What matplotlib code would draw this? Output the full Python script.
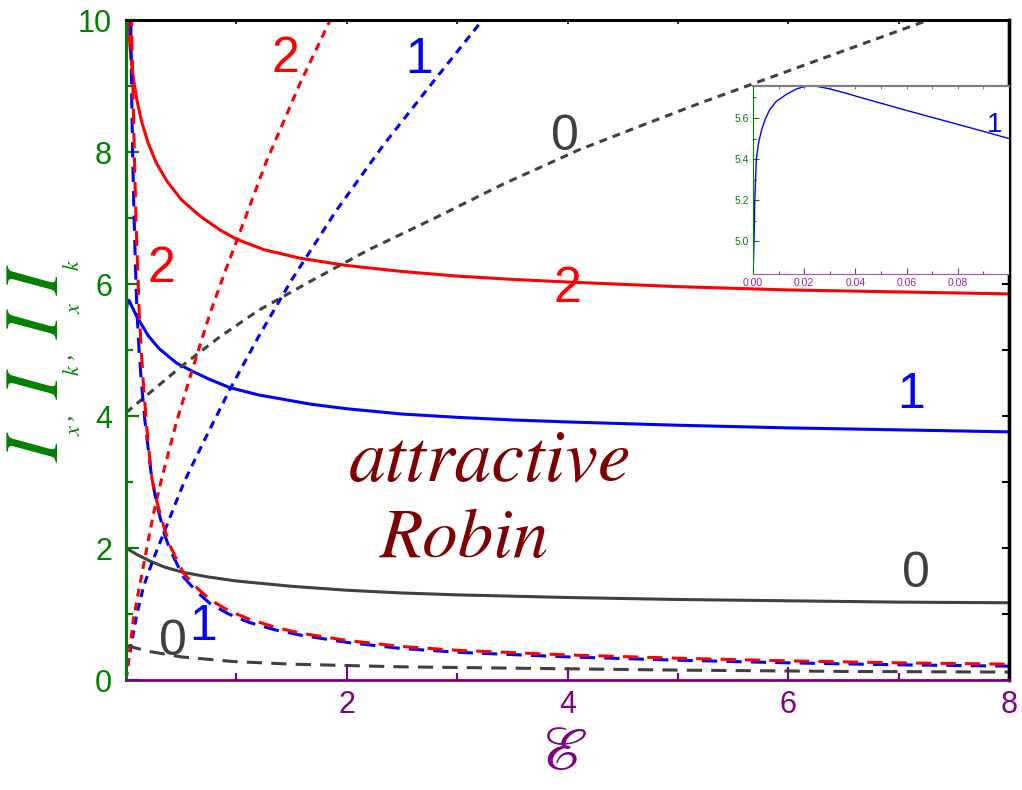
import matplotlib
matplotlib.use("Agg")
import matplotlib.pyplot as plt
from matplotlib.ticker import FormatStrFormatter

GREEN = "#008000"
PURPLE = "#800080"
GRAY = "#404040"
MAROON = "#800000"

# solid curves (level 0, 1, 2)
eps_sol0 = [0.0, 0.1, 0.22, 0.35, 0.52, 0.75, 1.0, 1.5, 2.0, 2.48, 3.0, 4.0, 5.0, 6.0, 7.0, 8.0]
sol0 = [2.0, 1.9, 1.8, 1.71, 1.63, 1.56, 1.5, 1.42, 1.36, 1.32, 1.29, 1.25, 1.22, 1.2, 1.18, 1.17]

eps_sol1 = [0.0, 0.0004, 0.00065, 0.0013, 0.0022, 0.0033, 0.0048, 0.0065, 0.009, 0.013, 0.017,
            0.021, 0.025, 0.030, 0.036, 0.042, 0.05, 0.060, 0.07, 0.078, 0.09, 0.1,
            0.2, 0.3, 0.46, 0.6, 0.75, 0.94, 1.2, 1.67, 2.0, 2.5, 3.0, 3.5, 4.0, 5.0, 6.0, 7.0, 8.0]
sol1 = [4.84, 5.0, 5.18, 5.40, 5.48, 5.54, 5.595, 5.64, 5.68, 5.715, 5.742,
        5.756, 5.754, 5.742, 5.722, 5.70, 5.672, 5.637, 5.603, 5.576, 5.535, 5.50,
        5.22, 5.02, 4.80, 4.68, 4.56, 4.43, 4.32, 4.18, 4.11, 4.03, 3.98, 3.94, 3.91, 3.86, 3.82, 3.79, 3.76]

eps_sol2 = [0.02, 0.035, 0.05, 0.07, 0.1, 0.14, 0.2, 0.27, 0.37, 0.5, 0.67, 0.85, 1.0, 1.25,
            1.58, 2.0, 2.5, 3.0, 3.5, 4.0, 5.0, 6.0, 7.0, 8.0]
sol2 = [10.0, 9.62, 9.35, 9.08, 8.78, 8.47, 8.14, 7.85, 7.56, 7.28, 7.03, 6.82, 6.68, 6.52,
        6.39, 6.28, 6.19, 6.12, 6.07, 6.03, 5.96, 5.91, 5.88, 5.85]

# short-dashed (rising) curves
eps_dot0 = [0.0, 0.25, 0.5, 0.85, 1.2, 1.67, 2.2, 2.8, 3.4, 4.1, 4.7, 5.2, 6.2, 7.27]
dot0 = [4.05, 4.4, 4.75, 5.2, 5.6, 6.04, 6.52, 7.0, 7.5, 8.03, 8.42, 8.74, 9.35, 10.0]

eps_dot1 = [0.0, 0.02, 0.05, 0.097, 0.157, 0.247, 0.369, 0.459, 0.535, 0.7, 0.94, 1.2, 1.5,
            1.9, 2.33, 2.8, 3.23]
dot1 = [0.0, 0.25, 0.55, 0.98, 1.41, 1.83, 2.34, 2.72, 3.03, 3.6, 4.4, 5.2, 6.06,
        7.1, 8.1, 9.1, 10.0]

eps_dot2 = [0.0, 0.036, 0.066, 0.112, 0.157, 0.217, 0.257, 0.308, 0.459, 0.61, 0.76, 0.9, 1.0,
            1.27, 1.58, 1.85]
dot2 = [0.0, 0.5, 0.91, 1.33, 1.72, 2.25, 2.58, 2.95, 3.92, 4.75, 5.55, 6.2, 6.64,
        7.85, 9.05, 10.0]

# long-dashed (falling) curves
eps_dash0 = [0.0, 0.05, 0.22, 0.5, 0.97, 1.5, 2.48, 3.48, 5.0, 6.5, 8.0]
dash0 = [0.52, 0.5, 0.43, 0.35, 0.28, 0.24, 0.2, 0.18, 0.15, 0.13, 0.12]

eps_dash1 = [0.043, 0.05, 0.06, 0.072, 0.085, 0.1, 0.12, 0.14, 0.17, 0.2, 0.23, 0.28, 0.35,
             0.4, 0.52, 0.64, 0.76, 0.93, 1.12, 1.35, 1.58, 2.0, 2.48, 3.0, 4.0, 5.0, 6.0, 7.0, 8.0]
dash1 = [10.0, 9.0, 8.0, 7.1, 6.3, 5.56, 4.95, 4.5, 3.95, 3.52, 3.1, 2.65, 2.2,
         1.97, 1.56, 1.34, 1.16, 1.0, 0.87, 0.76, 0.68, 0.57, 0.48, 0.42, 0.35, 0.3, 0.26, 0.23, 0.21]

eps_dash2 = [0.05, 0.062, 0.075, 0.087, 0.1, 0.12, 0.14, 0.155, 0.18, 0.2, 0.235, 0.28, 0.35,
             0.4, 0.52, 0.64, 0.76, 0.93, 1.12, 1.35, 1.58, 2.0, 2.48, 3.0, 4.0, 5.0, 6.0, 7.0, 8.0]
dash2 = [10.0, 9.0, 8.0, 7.2, 6.5, 5.56, 4.95, 4.55, 4.0, 3.6, 3.05, 2.7, 2.28,
         2.03, 1.62, 1.4, 1.22, 1.05, 0.92, 0.8, 0.71, 0.6, 0.51, 0.45, 0.38, 0.33, 0.29, 0.26, 0.24]

x_major = [2, 4, 6, 8]
x_minor = [1, 3, 5, 7]
y_major = [0, 2, 4, 6, 8, 10]
y_minor = [1, 3, 5, 7, 9]

# curve labels: text, x, y (baseline), color
labels = [
    ("2", 1.44, 9.21, "red"),
    ("1", 2.66, 9.20, "blue"),
    ("0", 3.98, 8.03, GRAY),
    ("2", 0.317, 6.03, "red"),
    ("2", 4.0, 5.73, "red"),
    ("1", 7.11, 4.12, "blue"),
    ("0", 7.16, 1.41, GRAY),
    ("0", 0.426, 0.38, GRAY),
    ("1", 0.70, 0.61, "blue"),
]

W, H = 1022, 790
fig = plt.figure(figsize=(W / 100, H / 100), dpi=100)
plt.rcParams["font.family"] = ["Liberation Sans", "DejaVu Sans"]


def px_box(l, t, r, b):
    return [l / W, 1 - b / H, (r - l) / W, (b - t) / H]


ax = fig.add_axes(px_box(126, 20, 1009, 680))
ax.set_xlim(0, 8)
ax.set_ylim(0, 10)

dot = (0, (2.6, 2.0))
dash = (0, (5.0, 3.0))
lw = 2.2
ax.plot(eps_sol0, sol0, color=GRAY, lw=lw)
ax.plot(eps_sol1, sol1, color="blue", lw=lw)
ax.plot(eps_sol2, sol2, color="red", lw=lw)
ax.plot(eps_dot0, dot0, color=GRAY, lw=lw, ls=dot)
ax.plot(eps_dot1, dot1, color="blue", lw=lw, ls=dot)
ax.plot(eps_dot2, dot2, color="red", lw=lw, ls=dot)
ax.plot(eps_dash0, dash0, color=GRAY, lw=lw, ls=dash)
ax.plot(eps_dash1, dash1, color="blue", lw=lw, ls=dash)
ax.plot(eps_dash2, dash2, color="red", lw=lw, ls=(3, (5.0, 3.0)))

for s, x, y, c in labels:
    ax.text(x, y, s, color=c, fontsize=36, ha="center", va="baseline")

ax.text(3.3, 3.3, "attractive", color=MAROON, fontsize=53, family="STIXGeneral",
        style="italic", ha="center", va="center")
ax.text(3.07, 2.12, "Robin", color=MAROON, fontsize=51, family="STIXGeneral",
        style="italic", ha="center", va="center")

ax.set_xticks(x_major)
ax.set_xticks(x_minor, minor=True)
ax.set_yticks(y_major)
ax.set_yticks(y_minor, minor=True)
ax.tick_params(axis="x", which="both", direction="in", colors=PURPLE, labelsize=22, pad=7)
ax.tick_params(axis="y", which="both", direction="in", colors=GREEN, labelsize=22, pad=10)
ax.tick_params(which="major", length=9.5, width=1.6)
ax.tick_params(which="minor", length=5, width=1.6)
ax.spines["left"].set_color(GREEN)
ax.spines["left"].set_linewidth(2.2)
ax.spines["bottom"].set_color(PURPLE)
ax.spines["bottom"].set_linewidth(2.0)
ax.spines["top"].set_linewidth(2.0)
ax.spines["right"].set_linewidth(2.4)

top = ax.secondary_xaxis("top")
top.set_xticks(list(range(0, 9)))
top.tick_params(direction="in", length=3, width=1.2, labeltop=False, colors="black")
top.spines["top"].set_linewidth(2.0)
right = ax.secondary_yaxis("right")
right.set_yticks(list(range(0, 11)))
right.tick_params(direction="in", length=5, width=1.4, labelright=False, colors="black")
right.spines["right"].set_linewidth(2.4)

# y label: I_x, I_k, I_x I_k  built from pieces (small subscripts)
ylab = [
    ("I", 40, 449, 55), ("x", 75, 431, 16), (",", 66, 417, 20),
    ("I", 40, 386, 55), ("k", 73, 370, 16), (",", 66, 357, 20),
    ("I", 40, 326, 55), ("x", 75, 309, 16),
    ("I", 40, 282, 55), ("k", 73, 265, 16),
]
for s, px, py, fs in ylab:
    fig.text(px / W, 1 - py / H, s, rotation=90, ha="center", va="center", color=GREEN,
             fontsize=fs, family="STIXGeneral", style="italic")

fig.text(563 / W, 1 - 753 / H, r"$\mathscr{E}$", math_fontfamily="stix", fontsize=44,
         color=PURPLE, ha="center", va="center")

# inset: zoom of level 1 near zero
ins = fig.add_axes(px_box(753, 86, 1009, 274))
ins.plot(eps_sol1, sol1, color="blue", lw=1.0)
ins.set_xlim(0, 0.1)
ins.set_ylim(4.84, 5.756)
ins.set_xticks([0.0, 0.02, 0.04, 0.06, 0.08])
ins.set_xticks([0.01, 0.03, 0.05, 0.07, 0.09], minor=True)
ins.set_yticks([5.0, 5.2, 5.4, 5.6])
ins.set_yticks([5.1, 5.3, 5.5, 5.7], minor=True)
ins.xaxis.set_major_formatter(FormatStrFormatter("%.2f"))
ins.yaxis.set_major_formatter(FormatStrFormatter("%.1f"))
ins.tick_params(axis="x", which="both", direction="in", colors="#a020a0", labelsize=7.5, pad=3)
ins.tick_params(axis="y", which="both", direction="in", colors=GREEN, labelsize=7.5, pad=3)
ins.tick_params(which="major", length=4, width=0.8)
ins.tick_params(which="minor", length=2.5, width=0.8)
ins.spines["left"].set_color(GREEN)
ins.spines["bottom"].set_color("#b050b0")
ins.spines["top"].set_color("#808080")
ins.spines["top"].set_linewidth(1.5)
ins_top = ins.secondary_xaxis("top")
ins_top.set_xticks([0.01 * i for i in range(11)])
ins_top.tick_params(direction="in", length=2.5, width=0.8, labeltop=False, colors="#808080")
ins_top.spines["top"].set_color("#808080")
ins_top.spines["top"].set_linewidth(1.5)
ins.text(0.0945, 5.532, "1", color="blue", fontsize=20, ha="center", va="baseline")

fig.savefig("out.png", dpi=100)
